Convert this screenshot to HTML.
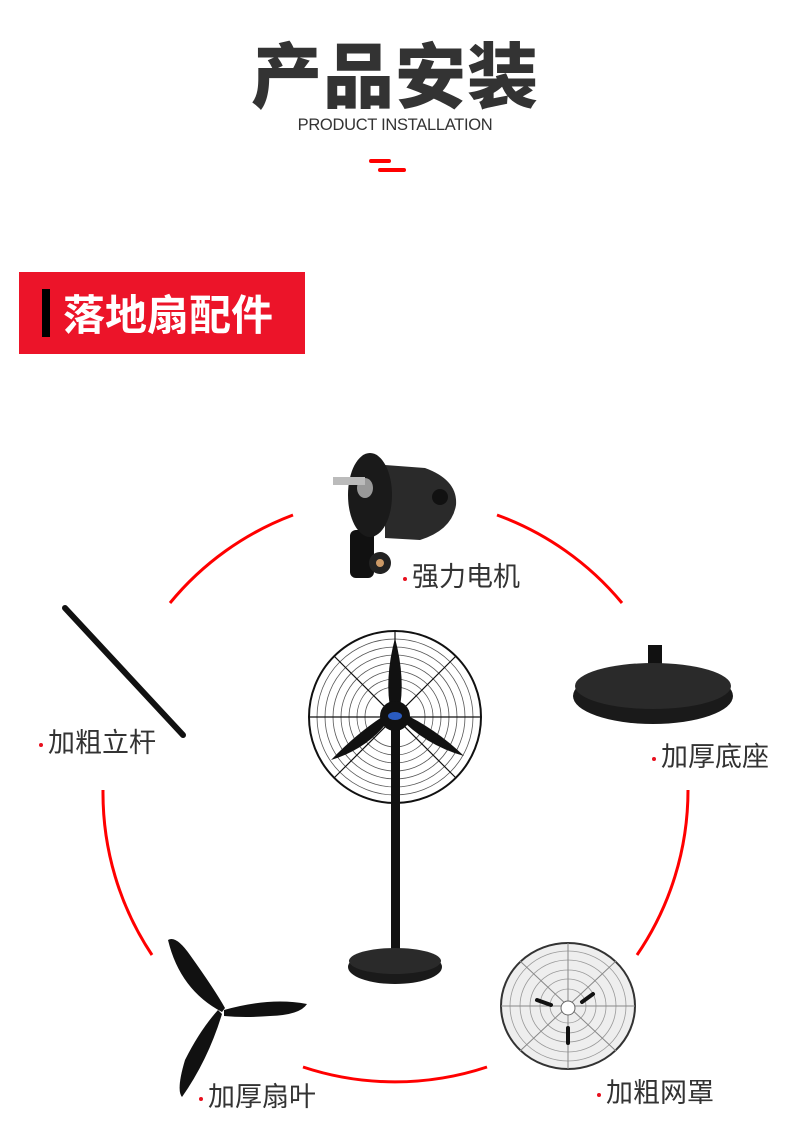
<!DOCTYPE html>
<html><head><meta charset="utf-8"><style>
body{margin:0;width:790px;height:1135px;background:#fff;position:relative;overflow:hidden;font-family:"Liberation Sans","Noto Sans CJK SC",sans-serif}
.t{position:absolute;left:0;width:790px;text-align:center}
.lbl{position:absolute;font-size:27px;color:#333;font-family:"Noto Sans CJK SC",sans-serif;line-height:1}
.lbl:before{content:"";display:inline-block;width:4px;height:4px;border-radius:50%;background:#e8101e;margin-right:5px;vertical-align:middle}
</style></head><body>
<div class="t" style="top:28px;font-size:71px;font-weight:900;color:#333;font-family:'Noto Sans CJK SC',sans-serif;letter-spacing:1px;line-height:88px">产品安装</div>
<div class="t" style="top:116px;font-size:16.5px;color:#333;letter-spacing:-0.3px">PRODUCT INSTALLATION</div>
<div style="position:absolute;left:369px;top:159px;width:22px;height:4px;background:#f00;border-radius:2px"></div>
<div style="position:absolute;left:378px;top:168px;width:28px;height:4px;background:#f00;border-radius:2px"></div>
<div style="position:absolute;left:19px;top:272px;width:286px;height:82px;background:#ec1429"></div>
<div style="position:absolute;left:42px;top:289px;width:8px;height:48px;background:#000"></div>
<div style="position:absolute;left:63px;top:284px;font-size:42px;font-weight:700;color:#fff;font-family:'Noto Sans CJK SC',sans-serif;line-height:58px">落地扇配件</div>
<svg width="790" height="1135" style="position:absolute;left:0;top:0">
<g fill="none" stroke="#f00" stroke-width="3">
<path d="M170,603 A292,292 0 0 1 293,515"/>
<path d="M497,515 A292,292 0 0 1 622,603"/>
<path d="M688,790 A292,292 0 0 1 637,955"/>
<path d="M487,1067 A292,292 0 0 1 303,1067"/>
<path d="M152,955 A292,292 0 0 1 103,790"/>
</g>
<g>
<rect x="350" y="530" width="24" height="48" rx="6" fill="#111"/>
<circle cx="380" cy="563" r="11" fill="#222"/>
<circle cx="380" cy="563" r="4" fill="#c96"/>
<path d="M385,465 L425,468 Q458,480 456,505 Q452,530 420,540 L385,538 Z" fill="#2a2a2a"/>
<ellipse cx="370" cy="495" rx="22" ry="42" fill="#1a1a1a"/>
<ellipse cx="365" cy="488" rx="8" ry="10" fill="#999"/>
<rect x="333" y="477" width="32" height="8" fill="#bbb"/>
<circle cx="440" cy="497" r="8" fill="#111"/>
</g>
<line x1="65" y1="608" x2="183" y2="735" stroke="#111" stroke-width="6" stroke-linecap="round"/>
<rect x="648" y="645" width="14" height="25" fill="#111"/>
<ellipse cx="653" cy="696" rx="80" ry="28" fill="#1a1a1a"/>
<ellipse cx="653" cy="686" rx="78" ry="23" fill="#2a2a2a"/>
<circle cx="395" cy="717" r="86" fill="none" stroke="#111" stroke-width="2"/>
<g fill="none" stroke="#555" stroke-width="0.8">
<circle cx="395" cy="717" r="78"/><circle cx="395" cy="717" r="70"/><circle cx="395" cy="717" r="62"/><circle cx="395" cy="717" r="54"/><circle cx="395" cy="717" r="46"/><circle cx="395" cy="717" r="38"/><circle cx="395" cy="717" r="30"/>
</g>
<g stroke="#111" stroke-width="1.2">
<line x1="309" y1="717" x2="481" y2="717"/><line x1="395" y1="631" x2="395" y2="803"/><line x1="334" y1="656" x2="456" y2="778"/><line x1="456" y1="656" x2="334" y2="778"/>
</g>
<rect x="391" y="717" width="9" height="240" fill="#111"/>
<path d="M395,638 Q406,680 399,712 L391,712 Q384,680 395,638Z" fill="#111"/>
<path d="M392,716 Q370,748 331,760 Q360,730 390,712Z" fill="#111"/>
<path d="M398,716 Q425,745 464,756 Q435,728 400,712Z" fill="#111"/>
<circle cx="395" cy="716" r="15" fill="#111"/>
<ellipse cx="395" cy="716" rx="7" ry="4" fill="#2a5bbf"/>
<ellipse cx="395" cy="967" rx="47" ry="17" fill="#1a1a1a"/>
<ellipse cx="395" cy="961" rx="46" ry="13" fill="#2a2a2a"/>
<path d="M222,1012 Q180,990 168,940 Q176,935 190,955 Q215,990 225,1008Z" fill="#111"/>
<path d="M224,1010 Q270,997 307,1004 Q300,1015 270,1016 Q245,1018 224,1016Z" fill="#111"/>
<path d="M222,1014 Q208,1060 182,1097 Q176,1090 185,1060 Q200,1030 218,1010Z" fill="#111"/>
<ellipse cx="568" cy="1006" rx="67" ry="63" fill="#eee" stroke="#333" stroke-width="2"/>
<g fill="none" stroke="#999" stroke-width="0.8">
<ellipse cx="568" cy="1006" rx="58" ry="55"/><ellipse cx="568" cy="1006" rx="48" ry="46"/><ellipse cx="568" cy="1006" rx="38" ry="36"/><ellipse cx="568" cy="1006" rx="28" ry="27"/><ellipse cx="568" cy="1006" rx="18" ry="17"/>
</g>
<g stroke="#888" stroke-width="1"><line x1="501" y1="1006" x2="635" y2="1006"/><line x1="568" y1="943" x2="568" y2="1069"/><line x1="520" y1="961" x2="616" y2="1051"/><line x1="616" y1="961" x2="520" y2="1051"/></g>
<g stroke="#111" stroke-width="4" stroke-linecap="round"><line x1="537" y1="1000" x2="551" y2="1005"/><line x1="582" y1="1002" x2="593" y2="994"/><line x1="568" y1="1028" x2="568" y2="1043"/></g>
<circle cx="568" cy="1008" r="7" fill="#fff" stroke="#666"/>
</svg>
<div class="lbl" style="left:403px;top:561px">强力电机</div>
<div class="lbl" style="left:39px;top:727px">加粗立杆</div>
<div class="lbl" style="left:652px;top:741px">加厚底座</div>
<div class="lbl" style="left:199px;top:1081px">加厚扇叶</div>
<div class="lbl" style="left:597px;top:1077px">加粗网罩</div>
</body></html>
